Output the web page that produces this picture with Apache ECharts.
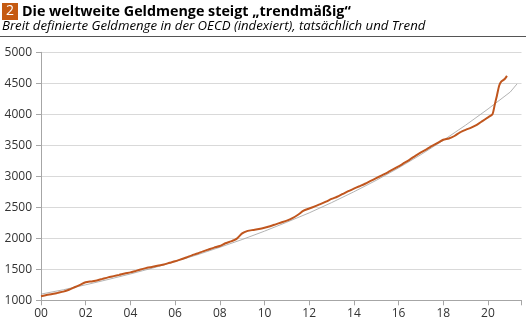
<!DOCTYPE html>
<html><head><meta charset="utf-8">
<script src="https://cdn.jsdelivr.net/npm/echarts@6/dist/echarts.min.js"></script>
<style>html,body{margin:0;padding:0;background:#fff}#c{width:526px;height:323px}</style>
</head><body><div id="c"></div>
<script>
const titleNum = '2';
const titleText = 'Die weltweite Geldmenge steigt „trendmäßig“';
const subtitleText = 'Breit definierte Geldmenge in der OECD (indexiert), tatsächlich und Trend';
const yTicks = [1000, 1500, 2000, 2500, 3000, 3500, 4000, 4500, 5000];
const xTickLabels = ['00','02','04','06','08','10','12','14','16','18','20'];
// years since 2000
const actualT = [0,0.25,0.5,0.75,1,1.25,1.5,1.75,2,2.25,2.5,2.75,3,3.25,3.5,3.75,4,4.25,4.5,4.75,5,5.25,5.5,5.75,6,6.25,6.5,6.75,7,7.25,7.5,7.75,8,8.25,8.5,8.75,9,9.25,9.5,9.75,10,10.25,10.5,10.75,11,11.25,11.5,11.75,12,12.25,12.5,12.75,13,13.25,13.5,13.75,14,14.25,14.5,14.75,15,15.25,15.5,15.75,16,16.25,16.5,16.75,17,17.25,17.5,17.75,18,18.25,18.5,18.75,19,19.25,19.5,19.75,20,20.2,20.3,20.4,20.5,20.6,20.75,20.85];
const actualV = [1065,1085,1100,1120,1140,1170,1210,1250,1290,1305,1320,1345,1370,1390,1410,1432,1450,1475,1500,1525,1540,1560,1578,1605,1630,1660,1690,1725,1755,1790,1820,1850,1875,1920,1950,1990,2080,2120,2135,2150,2170,2195,2225,2255,2285,2325,2380,2445,2480,2515,2550,2590,2635,2670,2715,2760,2800,2840,2880,2925,2970,3015,3060,3110,3160,3215,3270,3330,3385,3435,3490,3540,3590,3610,3650,3710,3750,3785,3830,3890,3950,4000,4150,4300,4460,4530,4570,4620];
const trendT = [0,1,2,3,4,5,6,7,8,9,10,11,12,13,14,15,16,17,18,19,20,21,21.3];
const trendV = [1100,1170,1250,1335,1425,1520,1625,1735,1855,1980,2115,2260,2410,2575,2750,2935,3135,3350,3580,3825,4085,4360,4490];
const xMax = 21.5;

const chart = echarts.init(document.getElementById('c'), null, {renderer:'canvas'});
const FONT = '"Open Sans", "Noto Sans", sans-serif';
chart.setOption({
  animation:false,
  grid:{left:41,right:4.5,top:52.3,bottom:22.7},
  graphic:[
    {type:'rect',shape:{x:2,y:3,width:16,height:17},style:{fill:'#c55a11'}},
    {type:'text',x:10,y:11.5,style:{text:titleNum,fill:'#fff',font:'14px '+FONT,align:'center',verticalAlign:'middle'}},
    {type:'text',x:22,y:11.5,style:{text:titleText,fill:'#000',font:'bold 14.3px '+FONT,verticalAlign:'middle'}},
    {type:'text',x:2,y:26.5,style:{text:subtitleText,fill:'#000',font:'italic 13.2px '+FONT,verticalAlign:'middle'}},
    {type:'line',shape:{x1:0,y1:36.5,x2:526,y2:36.5},style:{stroke:'#555',lineWidth:1}}
  ],
  xAxis:{type:'value',min:0,max:xMax,interval:2,
    axisLine:{show:true,lineStyle:{color:'#a6a6a6'}},
    axisTick:{show:true,length:5,lineStyle:{color:'#a6a6a6'}},
    splitLine:{show:false},
    axisLabel:{margin:7,color:'#333',fontSize:12,fontFamily:FONT,
      formatter:v=>{const i=Math.round(v/2);return (Math.abs(v-i*2)<1e-6 && xTickLabels[i])?xTickLabels[i]:'';}}
  },
  yAxis:{type:'value',min:yTicks[0],max:yTicks[yTicks.length-1],interval:500,
    axisLine:{show:true,lineStyle:{color:'#a6a6a6'}},
    axisTick:{show:true,length:5,lineStyle:{color:'#a6a6a6'}},
    splitLine:{show:true,lineStyle:{color:'#d9d9d9'}},
    axisLabel:{margin:9,color:'#333',fontSize:12,fontFamily:FONT,formatter:v=>String(v)}
  },
  series:[
    {type:'line',data:trendT.map((t,i)=>[t,trendV[i]]),symbol:'none',lineStyle:{color:'#a0a0a0',width:0.8},z:2},
    {type:'line',data:actualT.map((t,i)=>[t,actualV[i]]),symbol:'none',smooth:0.2,lineStyle:{color:'#c0561e',width:2},z:3}
  ]
});
</script></body></html>
